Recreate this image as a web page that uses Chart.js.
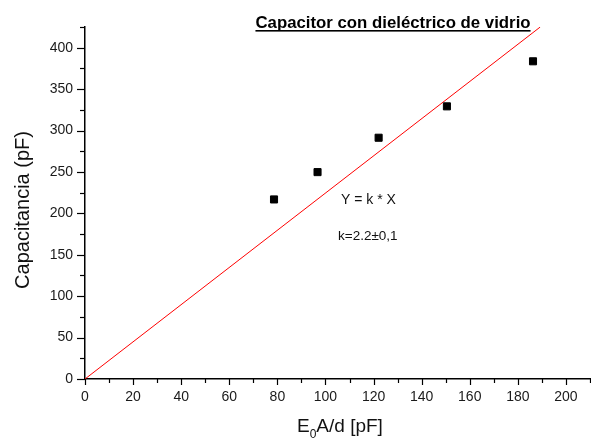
<!DOCTYPE html>
<html>
<head>
<meta charset="utf-8">
<script src="https://cdn.jsdelivr.net/npm/chart.js@4.4.1/dist/chart.umd.min.js"></script>
<style>
  html, body { margin: 0; padding: 0; background: #fff; }
  #wrap { width: 591px; height: 444px; }
</style>
</head>
<body>
<div id="wrap"><canvas id="myChart" width="591" height="444"></canvas></div>
<script>
// measured points
const capX = [78.6, 96.7, 122.1, 150.5, 186.3];
const capY = [216.8, 249.8, 291.3, 329.2, 383.6];
// fitted line Y = k * X
const fitX = [0, 189.3];
const fitY = [0, 425];

const xMax = 210;
const yMax = 425;
const xTickStep = 20, xMinorStep = 10;
const yTickStep = 50, yMinorStep = 25;

const titleText = 'Capacitor con dieléctrico de vidrio';
const yTitle = 'Capacitancia (pF)';
const noteFit = 'Y = k * X';
const noteK = 'k=2.2±0,1';

const FONT = '"Liberation Sans", Arial, sans-serif';

// ticks + texts drawn on top, positions taken from the scales
const decorations = {
  id: 'decorations',
  afterDraw(chart) {
    const ctx = chart.ctx;
    const xs = chart.scales.x, ys = chart.scales.y;
    const area = chart.chartArea;
    ctx.save();
    ctx.strokeStyle = '#000';
    ctx.lineWidth = 1.2;
    for (let v = 0; v <= xMax; v += xMinorStep) {
      const px = Math.round(xs.getPixelForValue(v)) + 0.5;
      const len = v % xTickStep === 0 ? 6 : 4;
      ctx.beginPath();
      ctx.moveTo(px, area.bottom);
      ctx.lineTo(px, area.bottom + len);
      ctx.stroke();
    }
    for (let v = 0; v <= yMax; v += yMinorStep) {
      const py = Math.round(ys.getPixelForValue(v)) + 0.5;
      const len = v % yTickStep === 0 ? 8 : 5;
      ctx.beginPath();
      ctx.moveTo(area.left, py);
      ctx.lineTo(area.left - len, py);
      ctx.stroke();
    }

    // title, underlined
    ctx.fillStyle = '#000';
    ctx.font = 'bold 16.8px ' + FONT;
    ctx.textAlign = 'center';
    ctx.textBaseline = 'alphabetic';
    const tx = 393, ty = 28;
    ctx.fillText(titleText, tx, ty);
    const tw = ctx.measureText(titleText).width;
    ctx.fillRect(tx - tw / 2, ty + 2, tw, 1.6);

    // y axis title
    ctx.font = '20px ' + FONT;
    ctx.fillStyle = '#111';
    ctx.save();
    ctx.translate(23, 210);
    ctx.rotate(-Math.PI / 2);
    ctx.textBaseline = 'middle';
    ctx.fillText(yTitle, 0, 0);
    ctx.restore();

    // x axis title with subscript
    ctx.textBaseline = 'alphabetic';
    ctx.textAlign = 'left';
    const base = 432;
    let x = 297;
    ctx.font = '19px ' + FONT;
    ctx.fillText('E', x, base);
    x += ctx.measureText('E').width;
    ctx.font = '12px ' + FONT;
    ctx.fillText('0', x, base + 6);
    x += ctx.measureText('0').width;
    ctx.font = '19px ' + FONT;
    ctx.fillText('A/d [pF]', x, base);

    // notes
    ctx.font = '14px ' + FONT;
    ctx.textBaseline = 'middle';
    ctx.fillText(noteFit, 341, 200);
    ctx.font = '13.5px ' + FONT;
    ctx.fillText(noteK, 338, 236);
    ctx.restore();
  }
};

const axisCommon = {
  type: 'linear',
  min: 0,
  grid: { display: false, drawTicks: false },
  border: { display: true, color: '#000', width: 1.5 },
  ticks: {
    color: '#1a1a1a',
    font: { family: FONT, size: 14 }
  }
};

new Chart(document.getElementById('myChart'), {
  type: 'scatter',
  data: {
    datasets: [
      {
        label: 'datos',
        data: capX.map((v, i) => ({ x: v, y: capY[i] })),
        pointStyle: 'rect',
        pointRadius: 5,
        backgroundColor: '#000',
        borderColor: '#000',
        borderWidth: 1
      },
      {
        label: 'ajuste',
        data: fitX.map((v, i) => ({ x: v, y: fitY[i] })),
        showLine: true,
        pointRadius: 0,
        borderColor: '#ff0000',
        borderWidth: 1
      }
    ]
  },
  options: {
    responsive: false,
    animation: false,
    layout: { autoPadding: false, padding: { top: 27, right: 1, left: 0, bottom: 0 } },
    plugins: { legend: { display: false }, tooltip: { enabled: false } },
    scales: {
      x: {
        ...axisCommon,
        max: xMax,
        ticks: {
          ...axisCommon.ticks,
          stepSize: xMinorStep,
          padding: 10,
          maxRotation: 0,
          autoSkip: false,
          callback: (v) => (v % xTickStep === 0 ? v : '')
        },
        afterFit: (s) => { s.height = 65; s.paddingLeft = 0; s.paddingRight = 0; }
      },
      y: {
        ...axisCommon,
        max: yMax,
        ticks: {
          ...axisCommon.ticks,
          stepSize: yMinorStep,
          padding: 12,
          autoSkip: false,
          callback: (v) => (v % yTickStep === 0 ? v : '')
        },
        afterFit: (s) => { s.width = 85; s.paddingTop = 0; s.paddingBottom = 0; }
      }
    }
  },
  plugins: [decorations]
});
</script>
</body>
</html>
